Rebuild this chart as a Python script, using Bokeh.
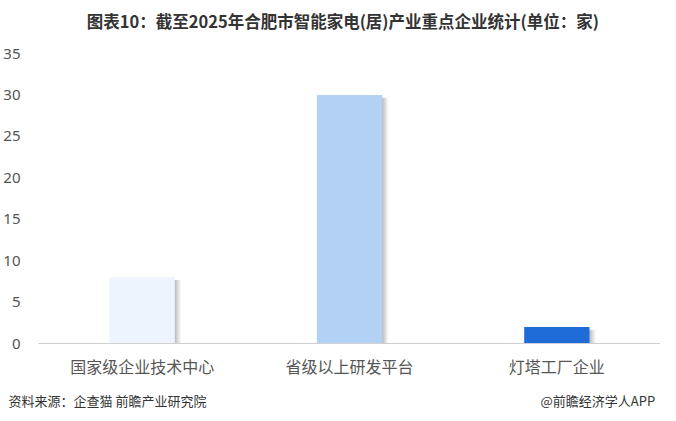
from bokeh.plotting import figure
from bokeh.models import FactorRange, FixedTicker, Label, ColumnDataSource, Title
from bokeh.layouts import column
from bokeh.transform import dodge
from bokeh.embed import file_html
from bokeh.resources import INLINE

categories = ["国家级企业技术中心", "省级以上研发平台", "灯塔工厂企业"]
values = [8, 30, 2]
colors = ["#EDF4FD", "#B3D0F5", "#1F6BD8"]
y_ticks = [0, 5, 10, 15, 20, 25, 30, 35]

title_text = "图表10：截至2025年合肥市智能家电(居)产业重点企业统计(单位：家)"
source_text = "资料来源：企查猫 前瞻产业研究院"
brand_text = "@前瞻经济学人APP"

W = 660
HEAD_H, MAIN_H = 40, 377

head = figure(width=W, height=HEAD_H, x_range=(0, W), y_range=(0, HEAD_H),
              output_backend="svg", toolbar_location=None, min_border=0,
              x_axis_location=None, y_axis_location=None)
head.grid.visible = False
head.outline_line_color = None
head.add_layout(Label(x=W / 2 - 7, y=HEAD_H - 20, text=title_text, text_font="Noto Sans CJK SC",
                      text_font_style="bold", text_font_size="16.5px", text_color="#333333",
                      text_align="center", text_baseline="middle"))

p = figure(width=W, height=MAIN_H, x_range=FactorRange(*categories, range_padding=0),
           y_range=(0, 35), output_backend="svg", toolbar_location=None,
           min_border_left=30, min_border_right=0, min_border_top=13, min_border_bottom=74)
p.outline_line_color = None
p.grid.grid_line_color = None
p.background_fill_color = "white"

src = ColumnDataSource(dict(cat=categories, val=values, col=colors,
                            sh=[v - 0.35 for v in values]))
# soft shadow layers
for i, a in enumerate([0.10, 0.10, 0.09, 0.07, 0.05]):
    off = (i + 1) * 0.006
    p.vbar(x=dodge("cat", off, range=p.x_range), top="sh", bottom=0, width=0.315,
           source=src, fill_color="#555555", fill_alpha=a, line_color=None)
p.vbar(x="cat", top="val", bottom=0, width=0.315, source=src,
       fill_color="col", line_color=None)

p.yaxis.ticker = FixedTicker(ticks=y_ticks)
p.yaxis.axis_line_color = None
p.yaxis.major_tick_line_color = None
p.yaxis.minor_tick_line_color = None
p.yaxis.major_label_text_font = "Noto Sans"
p.yaxis.major_label_text_font_size = "15px"
p.yaxis.major_label_text_color = "#555555"
p.yaxis.major_label_standoff = 12

p.xaxis.axis_line_color = "#D0D0D0"
p.xaxis.major_tick_line_color = None
p.xaxis.minor_tick_line_color = None
p.xaxis.major_label_text_font = "Noto Sans CJK SC"
p.xaxis.major_label_text_font_size = "16px"
p.xaxis.major_label_text_color = "#555555"
p.xaxis.major_label_standoff = 4

footer_text = source_text + "\u3000" * 25 + "\u2002\u2009" + brand_text
p.add_layout(Title(text=footer_text, align="left", offset=-30, standoff=16,
                   text_font="Noto Sans CJK SC", text_font_style="normal",
                   text_font_size="13px", text_color="#333333"), "below")

layout = column(head, p, spacing=0)
open("out.html", "w").write(file_html(layout, INLINE))
